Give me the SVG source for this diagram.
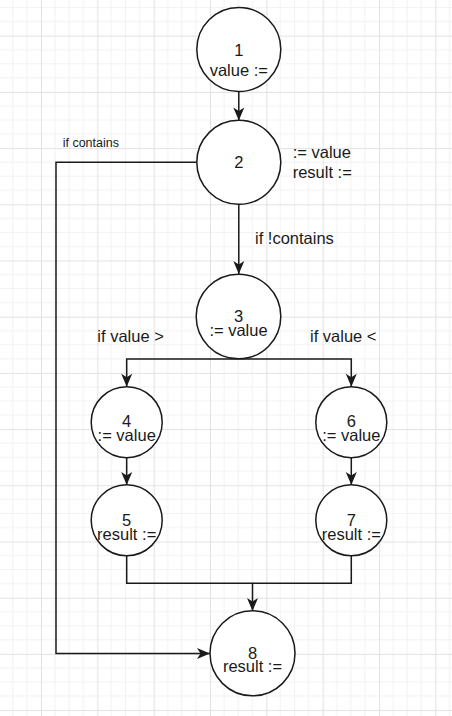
<svg xmlns="http://www.w3.org/2000/svg" width="452" height="716" viewBox="0 0 452 716">
  <style>
    .node { fill: #ffffff; stroke: #1a1a1a; stroke-width: 1.5; }
    .edge { fill: none; stroke: #1a1a1a; stroke-width: 1.5; }
    .t { font-family: "Liberation Sans", Arial, sans-serif; font-size: 16.5px; fill: #1a1a1a; text-anchor: middle; }
    .lbl { font-family: "Liberation Sans", Arial, sans-serif; font-size: 16.5px; fill: #1a1a1a; }
    .small { font-family: "Liberation Sans", Arial, sans-serif; font-size: 12.5px; fill: #1a1a1a; }
  </style>
  <defs>
    <pattern id="grid" patternUnits="userSpaceOnUse" x="-15.33" y="-20.5" width="56.33" height="56.2">
      <rect width="56.33" height="56.2" fill="#ffffff"/>
      <path d="M14.08,0 V56.2 M28.17,0 V56.2 M42.25,0 V56.2 M0,14.05 H56.33 M0,28.1 H56.33 M0,42.15 H56.33" stroke="#f2f2f2" stroke-width="1" fill="none"/>
      <path d="M0.5,0 V56.2 M0,0.5 H56.33" stroke="#e2e2e2" stroke-width="1" fill="none"/>
    </pattern>
    <marker id="arrow" markerUnits="userSpaceOnUse" viewBox="-14 -7 15 14" markerWidth="15" markerHeight="14" refX="0" refY="0" orient="auto">
      <path d="M0,0 L-13,-5.5 L-9.5,0 L-13,5.5 Z" fill="#1a1a1a"/>
    </marker>
  </defs>
  <rect width="452" height="716" fill="url(#grid)"/>

  <g id="connectors">
    <path class="edge" d="M238.8,91.7 V120.5" marker-end="url(#arrow)"/>
    <path class="edge" d="M238.8,204 V274" marker-end="url(#arrow)"/>
    <path class="edge" d="M196.9,162.3 H56 V653.5 H210" marker-end="url(#arrow)"/>
    <path class="edge" d="M238.5,359 H126.7 V386.7" marker-end="url(#arrow)"/>
    <path class="edge" d="M238.5,359 H351.3 V386.7" marker-end="url(#arrow)"/>
    <path class="edge" d="M126.7,457.7 V485" marker-end="url(#arrow)"/>
    <path class="edge" d="M351.3,457.7 V485" marker-end="url(#arrow)"/>
    <path class="edge" d="M126.7,555.7 V583.3 H252.5 V611" marker-end="url(#arrow)"/>
    <path class="edge" d="M351.3,555.7 V583.3 H252.5"/>
    <text class="small" x="62.7" y="146.7">if contains</text>
    <text class="lbl" x="255" y="244.3">if !contains</text>
    <text class="lbl" x="97.3" y="342.3">if value &gt;</text>
    <text class="lbl" x="310" y="342.3">if value &lt;</text>
  </g>

  <g id="node1">
    <circle class="node" cx="238.8" cy="49.5" r="42"/>
    <text class="t" x="238.8" y="56">1</text>
    <text class="t" x="238.8" y="76">value :=</text>
  </g>
  <g id="node2">
    <circle class="node" cx="238.8" cy="162.3" r="42"/>
    <text class="t" x="238.8" y="168.3">2</text>
    <text class="lbl" x="292.7" y="158.3">:= value</text>
    <text class="lbl" x="292.7" y="177.7">result :=</text>
  </g>
  <g id="node3">
    <circle class="node" cx="238.5" cy="316.5" r="42.3"/>
    <text class="t" x="238.5" y="321.7">3</text>
    <text class="t" x="238.5" y="335.5">:= value</text>
  </g>
  <g id="node4">
    <circle class="node" cx="126.7" cy="422.2" r="35.5"/>
    <text class="t" x="126.7" y="426.7">4</text>
    <text class="t" x="126.7" y="441">:= value</text>
  </g>
  <g id="node6">
    <circle class="node" cx="351.3" cy="422.2" r="35.5"/>
    <text class="t" x="351.3" y="426.7">6</text>
    <text class="t" x="351.3" y="441">:= value</text>
  </g>
  <g id="node5">
    <circle class="node" cx="126.7" cy="520.3" r="35.5"/>
    <text class="t" x="126.7" y="525.7">5</text>
    <text class="t" x="126.7" y="540">result :=</text>
  </g>
  <g id="node7">
    <circle class="node" cx="351.3" cy="520.3" r="35.5"/>
    <text class="t" x="351.3" y="525.7">7</text>
    <text class="t" x="351.3" y="540">result :=</text>
  </g>
  <g id="node8">
    <circle class="node" cx="252.5" cy="653.3" r="42.5"/>
    <text class="t" x="252.5" y="659.3">8</text>
    <text class="t" x="252.5" y="672.3">result :=</text>
  </g>
</svg>
